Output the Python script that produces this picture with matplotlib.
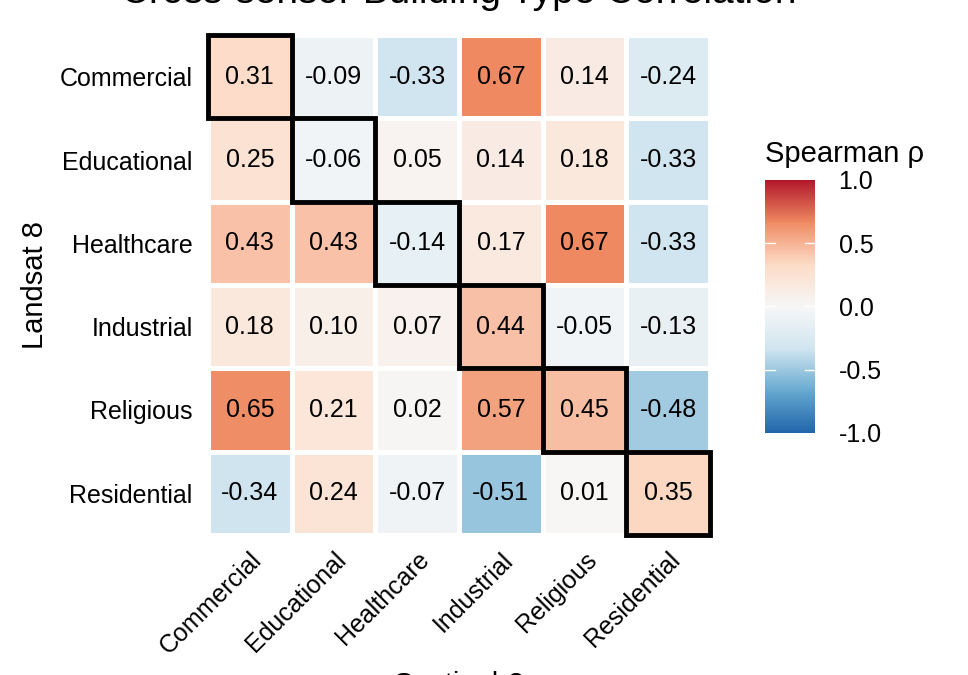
import matplotlib
matplotlib.use('Agg')
import matplotlib.pyplot as plt
import numpy as np
from matplotlib.colors import LinearSegmentedColormap
from matplotlib.patches import Rectangle

plt.rcParams['font.family'] = ['Liberation Sans', 'DejaVu Sans']

# categories (rows = Landsat 8, columns = other sensor)
row_labels = ['Commercial', 'Educational', 'Healthcare', 'Industrial', 'Religious', 'Residential']
col_labels = ['Commercial', 'Educational', 'Healthcare', 'Industrial', 'Religious', 'Residential']

rho_commercial = [0.31, -0.09, -0.33, 0.67, 0.14, -0.24]
rho_educational = [0.25, -0.06, 0.05, 0.14, 0.18, -0.33]
rho_healthcare = [0.43, 0.43, -0.14, 0.17, 0.67, -0.33]
rho_industrial = [0.18, 0.10, 0.07, 0.44, -0.05, -0.13]
rho_religious = [0.65, 0.21, 0.02, 0.57, 0.45, -0.48]
rho_residential = [-0.34, 0.24, -0.07, -0.51, 0.01, 0.35]

cbar_ticks = [-1.0, -0.5, 0.0, 0.5, 1.0]

rho = np.array([rho_commercial, rho_educational, rho_healthcare,
                rho_industrial, rho_religious, rho_residential])

# RdBu (7 class) like scale_fill_distiller
cmap = LinearSegmentedColormap.from_list(
    'rdbu', ['#2166AC', '#67A9CF', '#D1E5F0', '#F7F7F7', '#FDDBC7', '#EF8A62', '#B2182B'])

fig = plt.figure(figsize=(9.68, 6.75), dpi=100)
ax = fig.add_axes([208 / 968, 1 - 535 / 675, 502 / 968, 500 / 675])

n_rows, n_cols = rho.shape
mesh = ax.pcolormesh(np.arange(n_cols + 1), np.arange(n_rows + 1), rho,
                     cmap=cmap, vmin=-1, vmax=1, edgecolors='white', linewidth=2.5)
ax.set_xlim(0, n_cols)
ax.set_ylim(n_rows, 0)

for i in range(n_rows):
    for j in range(n_cols):
        ax.text(j + 0.5, i + 0.5, f'{rho[i, j]:.2f}', ha='center', va='center',
                fontsize=18, color='black')

# highlight matching categories on the diagonal
for i in range(min(n_rows, n_cols)):
    ax.add_patch(Rectangle((i, i), 1, 1, fill=False, edgecolor='black',
                           linewidth=3.5, clip_on=False, zorder=5))

ax.set_xticks(np.arange(n_cols) + 0.5)
ax.set_xticklabels(col_labels, rotation=45, ha='right', va='top',
                   rotation_mode='anchor', fontsize=18)
ax.set_yticks(np.arange(n_rows) + 0.5)
ax.set_yticklabels(row_labels, fontsize=18)
ax.tick_params(axis='y', length=0, pad=11)
ax.tick_params(axis='x', length=0, pad=9)
for s in ax.spines.values():
    s.set_visible(False)

fig.text(35 / 968, 1 - 285 / 675, 'Landsat 8', rotation=90, ha='center', va='center',
         fontsize=21)
fig.text(459 / 968, 1 - 693 / 675, 'Sentinel-2', ha='center', va='baseline', fontsize=21)
fig.text(459 / 968, 1 - 3 / 675, 'Cross-sensor Building Type Correlation',
         ha='center', va='baseline', fontsize=28)

# colorbar
cax = fig.add_axes([765 / 968, 1 - 433 / 675, 50 / 968, 253 / 675])
cb = fig.colorbar(mesh, cax=cax, ticks=cbar_ticks)
cb.outline.set_visible(False)
cax.tick_params(length=0, pad=17, labelsize=18)
cax.set_yticklabels([f'{t:.1f}' for t in cbar_ticks])
for t in cbar_ticks[1:-1]:
    cax.plot([0, 0.2], [t, t], color='white', lw=1, transform=cax.get_yaxis_transform())
    cax.plot([0.8, 1], [t, t], color='white', lw=1, transform=cax.get_yaxis_transform())
fig.text(765 / 968, 1 - 162 / 675, 'Spearman ρ', ha='left', va='baseline', fontsize=21)

fig.savefig('out.png', dpi=100)
